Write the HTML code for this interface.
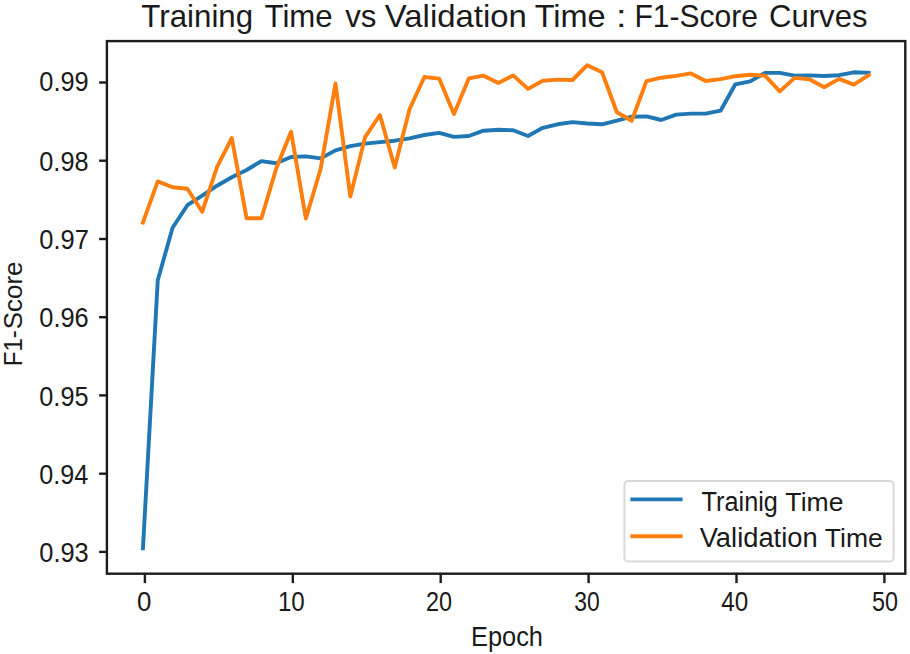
<!DOCTYPE html>
<html><head><meta charset="utf-8"><style>
html,body{margin:0;padding:0;background:#fff;}
body{width:910px;height:654px;overflow:hidden;}
svg{display:block;}
text{font-family:"Liberation Sans", sans-serif;fill:#1a1a1a;}
</style></head><body>
<svg width="910" height="654" viewBox="0 0 910 654">
<rect width="910" height="654" fill="#fff"/>
<polyline points="142.95,548.3 157.76,280.3 172.57,227.7 187.38,205.2 202.19,195.7 217.00,185.7 231.81,177.2 246.62,170.0 261.43,161.1 276.24,163.2 291.05,157.0 305.86,156.4 320.67,158.4 335.48,150.4 350.29,146.2 365.10,143.6 379.91,142.1 394.72,140.7 409.53,138.3 424.34,135.0 439.15,132.9 453.96,136.9 468.77,136.0 483.58,130.7 498.39,129.7 513.20,130.3 528.01,136.0 542.82,127.8 557.63,124.3 572.44,122.1 587.25,123.5 602.06,124.3 616.87,120.7 631.68,116.7 646.49,116.4 661.30,120.0 676.11,114.6 690.92,113.6 705.73,113.6 720.54,110.7 735.35,84.3 750.16,81.4 764.97,72.9 779.78,72.9 794.59,75.7 809.40,75.4 824.21,76.0 839.02,75.2 853.83,72.3 868.64,72.8" fill="none" stroke="#1f77b4" stroke-width="3.9" stroke-linejoin="round" stroke-linecap="square"/>
<polyline points="142.95,222.5 157.76,181.4 172.57,187.3 187.38,188.8 202.19,211.8 217.00,167.2 231.81,138.0 246.62,218.3 261.43,218.3 276.24,168.5 291.05,131.7 305.86,218.5 320.67,168.7 335.48,83.5 350.29,196.6 365.10,137.1 379.91,115.0 394.72,167.4 409.53,109.3 424.34,77.0 439.15,78.6 453.96,114.0 468.77,78.4 483.58,75.7 498.39,82.9 513.20,75.4 528.01,88.9 542.82,80.7 557.63,79.6 572.44,80.0 587.25,65.2 602.06,72.2 616.87,112.2 631.68,120.8 646.49,81.1 661.30,77.7 676.11,75.9 690.92,73.4 705.73,81.0 720.54,79.1 735.35,76.2 750.16,74.8 764.97,75.7 779.78,91.4 794.59,77.9 809.40,79.3 824.21,87.2 839.02,78.9 853.83,84.6 868.64,75.2" fill="none" stroke="#ff7f0e" stroke-width="3.9" stroke-linejoin="round" stroke-linecap="square"/>
<rect x="106.9" y="41.1" width="798.4" height="532.6" fill="none" stroke="#1c1c1c" stroke-width="2.4"/>
<line x1="99.1" y1="82.5" x2="106.9" y2="82.5" stroke="#1c1c1c" stroke-width="2.4"/>
<line x1="99.1" y1="160.7" x2="106.9" y2="160.7" stroke="#1c1c1c" stroke-width="2.4"/>
<line x1="99.1" y1="239.0" x2="106.9" y2="239.0" stroke="#1c1c1c" stroke-width="2.4"/>
<line x1="99.1" y1="317.2" x2="106.9" y2="317.2" stroke="#1c1c1c" stroke-width="2.4"/>
<line x1="99.1" y1="395.4" x2="106.9" y2="395.4" stroke="#1c1c1c" stroke-width="2.4"/>
<line x1="99.1" y1="473.7" x2="106.9" y2="473.7" stroke="#1c1c1c" stroke-width="2.4"/>
<line x1="99.1" y1="551.9" x2="106.9" y2="551.9" stroke="#1c1c1c" stroke-width="2.4"/>
<line x1="144.9" y1="573.7" x2="144.9" y2="583.1" stroke="#1c1c1c" stroke-width="2.4"/>
<line x1="292.8" y1="573.7" x2="292.8" y2="583.1" stroke="#1c1c1c" stroke-width="2.4"/>
<line x1="440.7" y1="573.7" x2="440.7" y2="583.1" stroke="#1c1c1c" stroke-width="2.4"/>
<line x1="588.6" y1="573.7" x2="588.6" y2="583.1" stroke="#1c1c1c" stroke-width="2.4"/>
<line x1="736.5" y1="573.7" x2="736.5" y2="583.1" stroke="#1c1c1c" stroke-width="2.4"/>
<line x1="884.4" y1="573.7" x2="884.4" y2="583.1" stroke="#1c1c1c" stroke-width="2.4"/>
<text transform="translate(39.28,90.91) scale(0.9399,1)" style="font-size:27px">0.99</text>
<text transform="translate(39.29,171.31) scale(0.9373,1)" style="font-size:27px">0.98</text>
<text transform="translate(39.28,249.31) scale(0.9424,1)" style="font-size:27px">0.97</text>
<text transform="translate(39.28,327.42) scale(0.9399,1)" style="font-size:27px">0.96</text>
<text transform="translate(39.29,405.51) scale(0.9373,1)" style="font-size:27px">0.95</text>
<text transform="translate(39.29,483.81) scale(0.9323,1)" style="font-size:27px">0.94</text>
<text transform="translate(39.28,562.42) scale(0.9399,1)" style="font-size:27px">0.93</text>
<text transform="translate(136.91,611.20) scale(0.9591,1)" style="font-size:27px">0</text>
<text transform="translate(277.89,611.20) scale(0.8934,1)" style="font-size:27px">10</text>
<text transform="translate(426.03,611.20) scale(0.8678,1)" style="font-size:27px">20</text>
<text transform="translate(574.28,611.20) scale(0.8486,1)" style="font-size:27px">30</text>
<text transform="translate(721.24,611.20) scale(0.8967,1)" style="font-size:27px">40</text>
<text transform="translate(872.11,611.20) scale(0.8666,1)" style="font-size:27px">50</text>
<text transform="translate(470.97,645.60) scale(0.8978,1)" style="font-size:28.3px">Epoch</text>
<g transform="translate(21.5,364.3) rotate(-90)"><text transform="translate(-1.93,0.00) scale(0.9084,1)" style="font-size:26.5px">F1-</text><text transform="translate(35.13,0.00) scale(0.9778,1)" style="font-size:26.5px">Score</text></g>
<text transform="translate(141.37,26.80) scale(1.0183,1)" style="font-size:30.7px">Training</text>
<text transform="translate(264.48,26.80) scale(1.0171,1)" style="font-size:30.7px">Time</text>
<text transform="translate(345.14,26.80) scale(1.0179,1)" style="font-size:30.7px">vs</text>
<text transform="translate(384.74,26.80) scale(1.0727,1)" style="font-size:30.7px">Validation</text>
<text transform="translate(534.65,26.80) scale(1.0586,1)" style="font-size:30.7px">Time</text>
<text transform="translate(615.89,26.80) scale(1.2344,1)" style="font-size:30.7px">:</text>
<text transform="translate(634.50,26.80) scale(0.9784,1)" style="font-size:30.7px">F1-Score</text>
<text transform="translate(769.05,26.80) scale(1.0126,1)" style="font-size:30.7px">Curves</text>
<rect x="624.4" y="481.1" width="269.2" height="80.4" rx="3.8" ry="3.8" fill="#fff" fill-opacity="0.8" stroke="#d9d9d9" stroke-width="2"/>
<line x1="632.3" y1="499.4" x2="680.6" y2="499.4" stroke="#1f77b4" stroke-width="3.9" stroke-linecap="square"/>
<line x1="632.3" y1="536.2" x2="680.6" y2="536.2" stroke="#ff7f0e" stroke-width="3.9" stroke-linecap="square"/>
<text transform="translate(701.59,510.80) scale(0.9469,1)" style="font-size:26.7px">Trainig</text>
<text transform="translate(785.37,510.80) scale(0.9964,1)" style="font-size:26.7px">Time</text>
<text transform="translate(699.66,547.30) scale(1.0243,1)" style="font-size:26.7px">Validation</text>
<text transform="translate(824.87,547.30) scale(0.9946,1)" style="font-size:26.7px">Time</text>
</svg>
</body></html>
